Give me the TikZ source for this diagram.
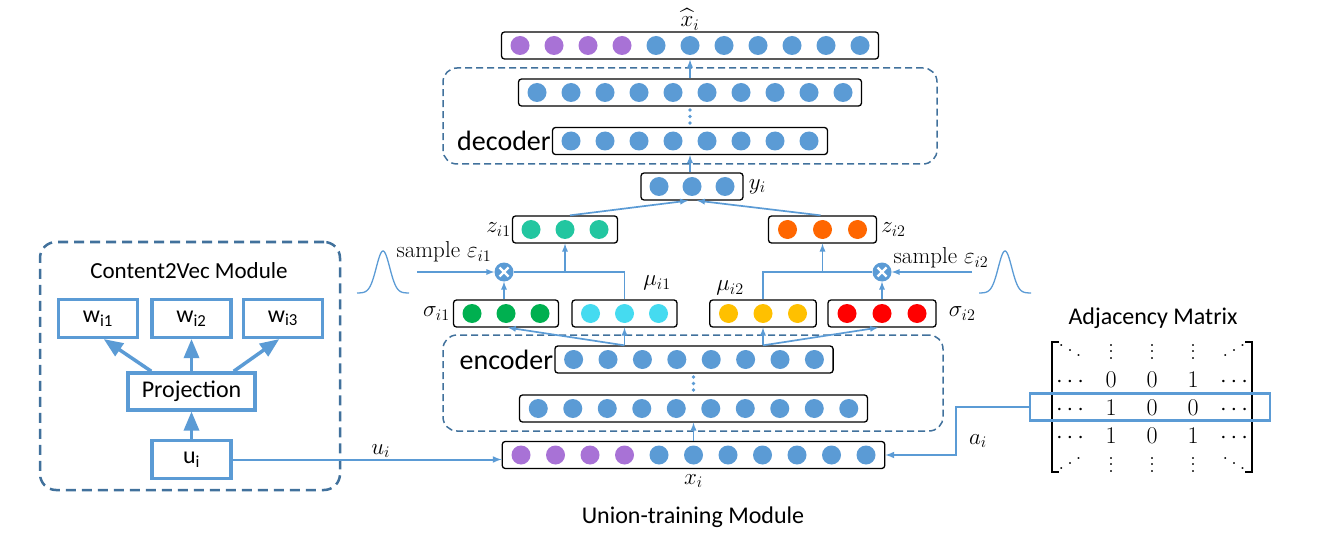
\RequirePackage{fix-cm}
\documentclass[tikz,border=0pt]{standalone}
\usepackage{fontspec}
\usepackage{amsmath}
\usepackage{graphicx}
\newfontfamily\calibri{Carlito}
\usetikzlibrary{shapes.geometric, arrows, positioning, matrix}

\definecolor{nodeblue}{HTML}{5B9BD5}
\definecolor{boxblue}{HTML}{41719C}
\definecolor{purpleunit}{HTML}{A872D6}
\definecolor{tealunit}{HTML}{22C6A0}
\definecolor{greenunit}{HTML}{00B050}
\definecolor{cyanunit}{HTML}{45DBF0}
\definecolor{yellowunit}{HTML}{FFC000}
\definecolor{redunit}{HTML}{FF0000}
\definecolor{orangeunit}{HTML}{FF6600}

\tikzstyle{layer} = [rectangle, rounded corners=3pt, 
draw=black, 
line width=1.3pt, 
minimum height=27pt, 
inner sep=0pt]
\tikzstyle{unit} = [circle, minimum size=19pt, inner sep=0pt]
\tikzstyle{module} = [rectangle, rounded corners=14pt, 
draw=boxblue, 
line width=1.5pt, 
dash pattern=on 7pt off 4pt, 
inner sep=0pt]
\tikzstyle{wordbox} = [rectangle, 
draw=nodeblue, 
line width=3.5pt, 
inner sep=0pt, 
minimum height=38pt, 
font=\calibri\fontsize{24}{28}\selectfont]
\tikzstyle{mult} = [circle, fill=nodeblue, minimum size=19pt, inner sep=0pt,
path picture={\draw[white, line width=2.2pt]
 ([shift={(-4.5,-4.5)}]path picture bounding box.center) -- ([shift={(4.5,4.5)}]path picture bounding box.center)
 ([shift={(-4.5,4.5)}]path picture bounding box.center) -- ([shift={(4.5,-4.5)}]path picture bounding box.center);}]
\tikzstyle{mathlabel} = [inner sep=1pt, font=\fontsize{23}{27}\selectfont]
\tikzstyle{title} = [inner sep=1pt, font=\calibri\fontsize{24}{29}\selectfont]
\tikzstyle{arrow} = [line width=1.7pt, draw=nodeblue, ->, >=latex]
\tikzstyle{link} = [line width=1.7pt, draw=nodeblue]
\tikzstyle{fatarrow} = [line width=3.5pt, draw=nodeblue, ->, >=triangle 45]
\tikzstyle{bracket} = [line width=1.5pt, draw=black]

% a row of units: name, position, units, purple units, colour, spacing
\newcommand{\unitrow}[6]{%
  \node (#1) [layer, minimum width={#3*#6+3}] at #2 {};
  \foreach \k in {1,...,#3}{
    \pgfmathsetmacro{\off}{(\k-(#3+1)/2)*#6}
    \ifnum\k>#4\relax \colorlet{unitcol}{#5}\else \colorlet{unitcol}{purpleunit}\fi
    \node [unit, fill=unitcol] at ([xshift=\off pt]#1.center) {};
  }
}
% dots for the matrix
\newcommand{\tallvdots}{\vbox{\baselineskip=6.5pt \lineskiplimit=0pt \kern2pt \hbox{.}\hbox{.}\hbox{.}}}
\newcommand{\downdots}{\mathinner{\raise13pt\hbox{.}\mkern2mu\raise8pt\hbox{.}\mkern2mu\raise3pt\hbox{.}}}
\newcommand{\updots}{\mathinner{\raise3pt\hbox{.}\mkern2mu\raise8pt\hbox{.}\mkern2mu\raise13pt\hbox{.}}}

\begin{document}
\begin{tikzpicture}[x=1pt, y=-1pt]
		\useasboundingbox (0,0) rectangle (1337,537);
		
		% Content2Vec module
		\node (c2vbox) [module, line width=2.5pt, dash pattern=on 10pt off 6pt, rounded corners=16pt, minimum width=300pt, minimum height=248pt] at (190,366) {};
		\node (c2vlabel) [title, font=\calibri\fontsize{23}{28}\selectfont] at (189,271) {Content2Vec Module};
		\node (proj) [wordbox, minimum width=127pt, minimum height=37pt] at (191.5,391.5) {Projection};
		\node (ui) [wordbox, minimum width=79pt, below=27pt of proj] {u\textsubscript{i}};
		\node (wtwo) [wordbox, minimum width=79pt, above=32pt of proj] {w\textsubscript{i2}};
		\node (wone) [wordbox, minimum width=79pt, left=11pt of wtwo] {w\textsubscript{i1}};
		\node (wthree) [wordbox, minimum width=79pt, right=9pt of wtwo] {w\textsubscript{i3}};
		
		\draw [fatarrow] ([xshift=25pt]proj.north west) -- ([xshift=6pt]wone.south);
		\draw [fatarrow] (proj.north) -- (wtwo.south);
		\draw [fatarrow] ([xshift=-23pt]proj.north east) -- ([xshift=-4pt]wthree.south);
		\draw [fatarrow] (ui.north) -- (proj.south);
		
		% Union-training module
		\node (encbox) [module, minimum width=500pt, minimum height=96pt] at (693,383) {};
		\node (decbox) [module, minimum width=494pt, minimum height=96pt] at (690,116) {};
		
		\unitrow{xrow}{(693.5,455)}{11}{4}{nodeblue}{34.5}
		\unitrow{enctwo}{(693.5,408.5)}{10}{0}{nodeblue}{34.5}
		\unitrow{encone}{(694,359.5)}{8}{0}{nodeblue}{34.4}
		\unitrow{sigone}{(506,313.5)}{3}{0}{greenunit}{34}
		\unitrow{muone}{(624.5,313.5)}{3}{0}{cyanunit}{34}
		\unitrow{mutwo}{(763,313.5)}{3}{0}{yellowunit}{34.5}
		\unitrow{sigtwo}{(882,313.5)}{3}{0}{redunit}{35}
		\unitrow{zone}{(565,229.5)}{3}{0}{tealunit}{34}
		\unitrow{ztwo}{(822.5,229.5)}{3}{0}{orangeunit}{35}
		\unitrow{yrow}{(692,186.5)}{3}{0}{nodeblue}{33}
		\unitrow{dectwo}{(690,141)}{8}{0}{nodeblue}{34}
		\unitrow{decone}{(690,92.5)}{10}{0}{nodeblue}{34}
		\unitrow{xhat}{(690,45.5)}{11}{4}{nodeblue}{34}
		
		\foreach \d in {110,116.5,123} \fill[nodeblue] (690,\d) circle (1.9pt);
		\foreach \d in {377,383.5,390} \fill[nodeblue] (693.5,\d) circle (1.9pt);
		
		\node (xhatlabel) [mathlabel, above=0pt of xhat] {$\widehat{x}_i$};
		\node (xlabel) [mathlabel, below=4pt of xrow] {$x_i$};
		\node (unionlabel) [title] at (693,517) {Union-training Module};
		\node (enclabel) [inner sep=1pt, font=\calibri\fontsize{28}{32}\selectfont, left=0pt of encone] {encoder};
		\node (declabel) [inner sep=1pt, font=\calibri\fontsize{28}{32}\selectfont, left=0pt of dectwo] {decoder};
		\node (ylabel) [mathlabel, right=4pt of yrow] {$y_i$};
		\node (zonelabel) [mathlabel, left=0pt of zone] {$z_{i1}$};
		\node (ztwolabel) [mathlabel, right=3pt of ztwo] {$z_{i2}$};
		\node (sigonelabel) [mathlabel, left=2pt of sigone] {$\sigma_{i1}$};
		\node (sigtwolabel) [mathlabel, right=11pt of sigtwo] {$\sigma_{i2}$};
		\node (muonelabel) [mathlabel] at (657,283) {$\mu_{i1}$};
		\node (mutwolabel) [mathlabel] at (730,288) {$\mu_{i2}$};
		
		% sampling
		\node (multone) [mult] at (504,272) {};
		\node (multtwo) [mult] at (882,272) {};
		\coordinate (epsone) at (417,272);
		\coordinate (epstwo) at (972,272);
		\node (epsonelabel) [mathlabel] at (444,252) {sample $\varepsilon_{i1}$};
		\node (epstwolabel) [mathlabel] at (941,258) {sample $\varepsilon_{i2}$};
		\draw [nodeblue, line width=1.3pt] plot[domain=-26:26, samples=60, smooth] ({383+\x},{293-42*exp(-(\x/9.5)*(\x/9.5))});
		\draw [nodeblue, line width=1.3pt] plot[domain=-26:26, samples=60, smooth] ({1005+\x},{293-42*exp(-(\x/9.5)*(\x/9.5))});
		
		\draw [arrow] (epsone) -- (multone.west);
		\draw [arrow] (sigone.north -| multone) -- (multone.south);
		\draw [link] (multone.east) -| (muone.north);
		\draw [arrow] (multone -| zone) -- (zone.south);
		\draw [arrow] (epstwo) -- (multtwo.east);
		\draw [arrow] (sigtwo.north) -- (multtwo.south);
		\draw [link] (multtwo.west) -| (mutwo.north);
		\draw [arrow] (multtwo -| ztwo) -- (ztwo.south);
		
		\draw [arrow] (xrow.north) -- (enctwo.south);
		\draw [arrow] (encone.north -| muone) -- (muone.south);
		\draw [arrow] (encone.north -| muone) -- ([xshift=2pt]sigone.south);
		\draw [arrow] (encone.north -| mutwo) -- (mutwo.south);
		\draw [arrow] (encone.north -| mutwo) -- ([xshift=-4pt]sigtwo.south);
		\draw [arrow] ([xshift=5pt]zone.north) -- ([xshift=-4pt]yrow.south);
		\draw [arrow] ([xshift=-2pt]ztwo.north) -- ([xshift=5pt]yrow.south);
		\draw [arrow] (yrow.north -| dectwo) -- (dectwo.south);
		\draw [arrow] (decone.north) -- (xhat.south);
		
		% adjacency matrix
		\node (adjlabel) [title] at (1153,318) {Adjacency Matrix};
		\matrix (adj) [matrix of math nodes, inner sep=0pt,
		  nodes={minimum width=30pt, text height=17pt, text depth=0pt, inner sep=0pt, font=\fontsize{24}{28}\selectfont},
		  column sep=11pt, row sep=11.25pt, anchor=center] at (1152,407) {
		  \downdots & \tallvdots & \tallvdots & \tallvdots & \updots \\
		  \cdots & 0 & 0 & 1 & \cdots \\
		  \cdots & 1 & 0 & 0 & \cdots \\
		  \cdots & 1 & 0 & 1 & \cdots \\
		  \updots & \tallvdots & \tallvdots & \tallvdots & \downdots \\
		};
		\draw [bracket] ([xshift=4pt]adj.north west) -- ([xshift=-3pt]adj.north west) -- ([xshift=-3pt]adj.south west) -- ([xshift=4pt]adj.south west);
		\draw [bracket] ([xshift=-4pt]adj.north east) -- ([xshift=3pt]adj.north east) -- ([xshift=3pt]adj.south east) -- ([xshift=-4pt]adj.south east);
		\node (hl) [draw=nodeblue, line width=2.5pt, minimum width=240pt, minimum height=27pt, inner sep=0pt] at ([xshift=-2pt]adj-3-3) {};
		
		\draw [arrow, line width=2pt] (ui.east) -- node[mathlabel, above, pos=0.55] {$u_i$} (ui.east -| xrow.west);
		\draw [arrow, line width=2pt] (hl.west) -- ++(-73,0) |- (xrow.east);
		\node (ailabel) [mathlabel] at (978,441) {$a_i$};
		
	\end{tikzpicture}
\end{document}
